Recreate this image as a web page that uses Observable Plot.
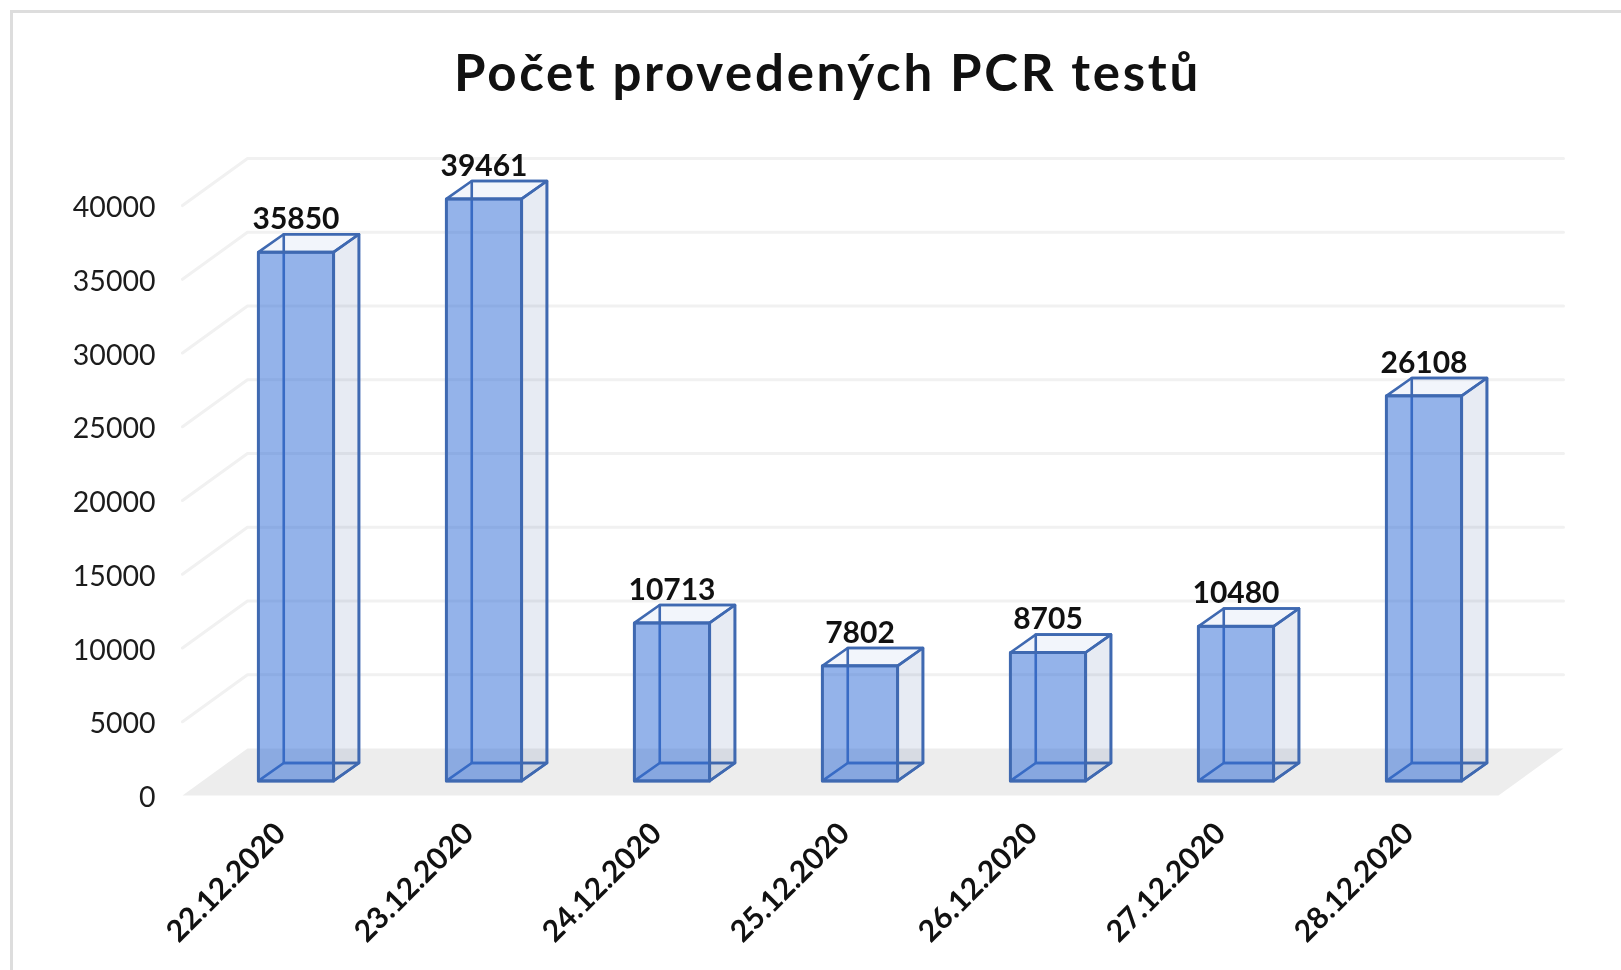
<!DOCTYPE html>
<html lang="cs">
<head>
<meta charset="utf-8">
<script src="https://cdn.jsdelivr.net/npm/d3@7"></script>
<script src="https://cdn.jsdelivr.net/npm/@observablehq/plot@0.6"></script>
<style>
  html, body { margin: 0; padding: 0; background: #fff; width: 1621px; height: 970px; overflow: hidden; }
  #frame { position: absolute; left: 10px; top: 10px; width: 1700px; height: 1100px; border: 3px solid #dddddd; box-sizing: border-box; }
  #title { position: relative; height: 100px; box-sizing: border-box; padding-top: 46px; padding-left: 34px; text-align: center;
           font: 700 51px/52px Lato, sans-serif; letter-spacing: 2.7px; color: #111; filter: blur(0.5px); }
  #chart { position: relative; filter: blur(0.5px); }
  #chart svg { display: block; }
</style>
</head>
<body>
<div id="frame"></div>
<div id="title">Počet provedených PCR testů</div>
<div id="chart"></div>
<script>
const dates = ["22.12.2020", "23.12.2020", "24.12.2020", "25.12.2020", "26.12.2020", "27.12.2020", "28.12.2020"];
const counts = [35850, 39461, 10713, 7802, 8705, 10480, 26108];
const yTicks = [0, 5000, 10000, 15000, 20000, 25000, 30000, 35000, 40000];

// Oblique projection: depth 0 is the front edge of the floor, depth 1 its back edge.
const depthX = 0.3457;   // category units per unit of depth
const depthY = 3190;     // value units per unit of depth
const barHalf = 0.2;     // half a bar's width, in category units
const barFrontX = 0.30, barFrontY = 0.31;
const barBackX = 0.69, barBackY = 0.69;
const xMin = -0.5, xMax = dates.length - 0.5;
const px = (x, d) => x + d * depthX;
const py = (v, d) => v + d * depthY;

function quad(id, corners) {
  return corners.map(([x, v, dx, dy]) => ({id, x: px(x, dx), y: py(v, dy)}));
}

const floor = quad("floor", [[xMin, 0, 0, 0], [xMax, 0, 0, 0], [xMax, 0, 1, 1], [xMin, 0, 1, 1]]);
const grid = yTicks.filter(t => t > 0).flatMap(t => [
  {id: t, x: px(xMin, 0), y: py(t, 0)},
  {id: t, x: px(xMin, 1), y: py(t, 1)},
  {id: t, x: px(xMax, 1), y: py(t, 1)}
]);

const backFaces = [], sideFaces = [], topFaces = [], bottomFaces = [], frontFaces = [];
counts.forEach((v, i) => {
  const l = i - barHalf, r = i + barHalf;
  const fx = barFrontX, fy = barFrontY, bx = barBackX, by = barBackY;
  backFaces.push(...quad("b" + i, [[l, 0, bx, by], [r, 0, bx, by], [r, v, bx, by], [l, v, bx, by]]));
  sideFaces.push(...quad("s" + i, [[r, 0, fx, fy], [r, 0, bx, by], [r, v, bx, by], [r, v, fx, fy]]));
  topFaces.push(...quad("t" + i, [[l, v, fx, fy], [r, v, fx, fy], [r, v, bx, by], [l, v, bx, by]]));
  bottomFaces.push(...quad("o" + i, [[l, 0, fx, fy], [r, 0, fx, fy], [r, 0, bx, by], [l, 0, bx, by]]));
  frontFaces.push(...quad("f" + i, [[l, 0, fx, fy], [r, 0, fx, fy], [r, v, fx, fy], [l, v, fx, fy]]));
});

const edge = "#3f69b1";
const face = (data, fill, strokeWidth = 2.6) => Plot.line(data, {
  x: "x", y: "y", z: "id", curve: "linear-closed", fill, stroke: edge, strokeWidth, strokeLinejoin: "round"
});
const labels = counts.map((v, i) => ({x: px(i, barFrontX), y: py(v, barBackY), t: String(v)}));

const chart = Plot.plot({
  width: 1621,
  height: 870,
  marginTop: 58,
  marginBottom: 175,
  marginLeft: 182,
  marginRight: 58,
  x: {domain: [xMin, px(xMax, 1)], axis: null},
  y: {domain: [0, py(40000, 1)], axis: null},
  style: {background: "transparent", color: "#1c1c1c"},
  marks: [
    Plot.line(grid, {x: "x", y: "y", z: "id", stroke: "#f1f1f1", strokeWidth: 3}),
    Plot.line(floor, {x: "x", y: "y", z: "id", curve: "linear-closed", fill: "#ededed", stroke: "none"}),
    Plot.axisY({
      ticks: yTicks, tickSize: 0, tickPadding: 27, tickFormat: d => String(d), label: null,
      fontFamily: "Lato, sans-serif", fontSize: 28.5, dy: 2.5
    }),
    Plot.axisX({
      ticks: d3.range(dates.length), tickFormat: i => dates[i], tickRotate: -45, tickSize: 0, tickPadding: 33, label: null,
      fontFamily: "Lato, sans-serif", fontSize: 30, fontWeight: 700, fill: "#111", dx: 4
    }),
    face(backFaces, "none"),
    face(bottomFaces, "rgba(68,114,196,0.06)"),
    face(sideFaces, "rgba(60,90,160,0.12)"),
    face(topFaces, "rgba(68,114,196,0.07)"),
    face(frontFaces, "rgba(50,110,215,0.52)", 3),
    Plot.text(labels, {
      x: "x", y: "y", text: "t", dy: -15, dx: 0, lineAnchor: "middle",
      fontFamily: "Lato, sans-serif", fontSize: 30, fontWeight: 700, fill: "#111"
    })
  ]
});
document.getElementById("chart").appendChild(chart);
</script>
</body>
</html>
